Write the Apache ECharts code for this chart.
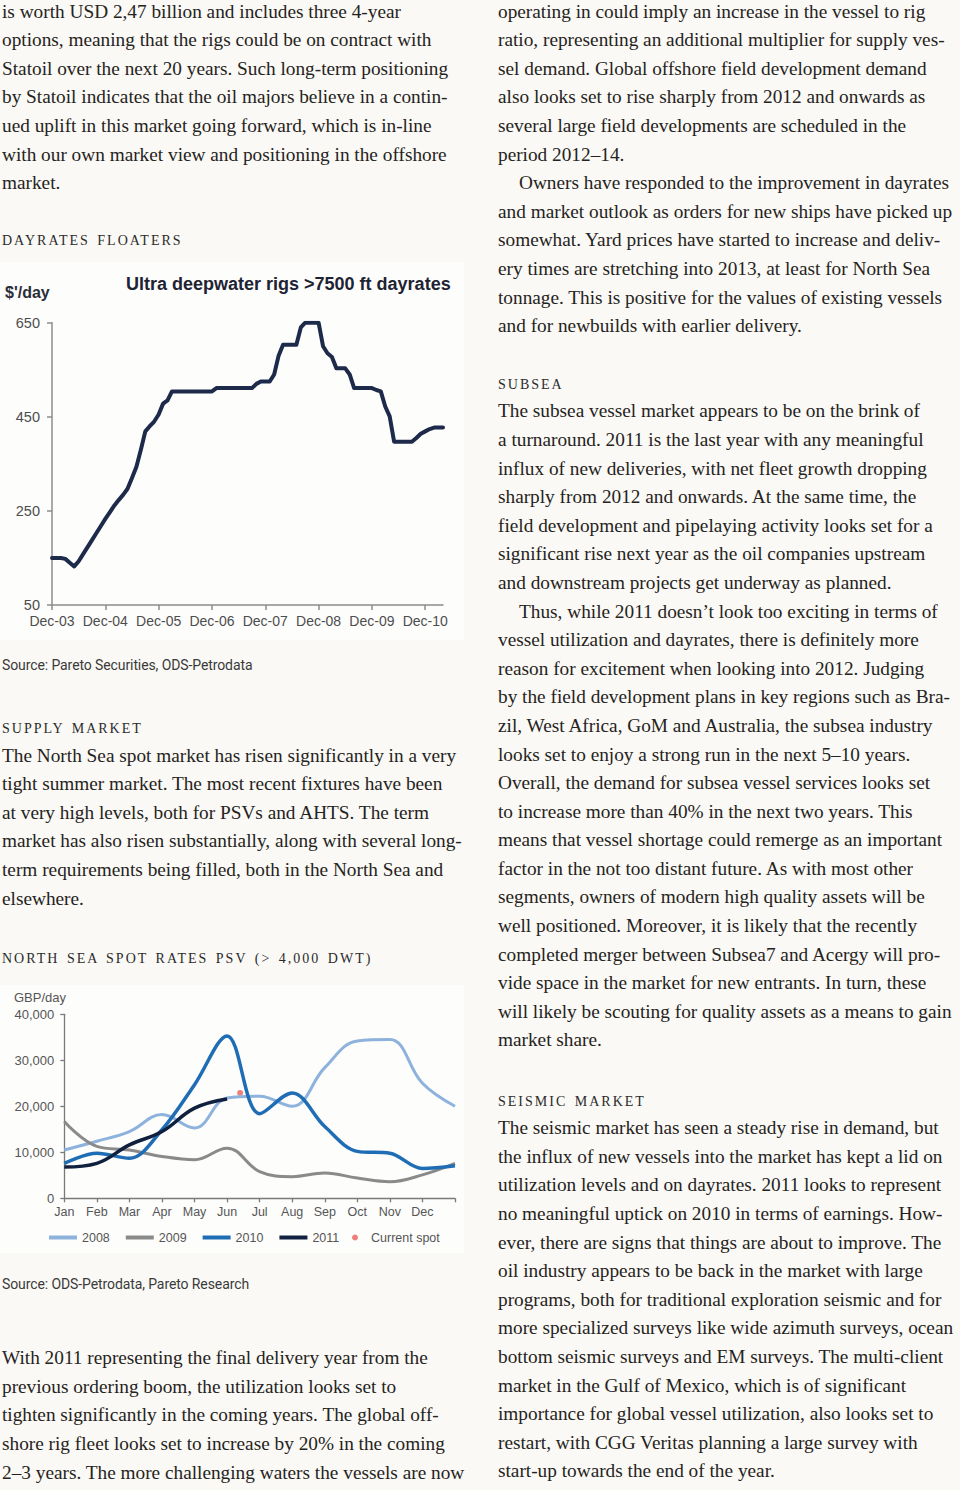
<!DOCTYPE html>
<html><head><meta charset="utf-8">
<script src="https://cdn.jsdelivr.net/npm/echarts@6/dist/echarts.min.js"></script>
<style>
html,body{margin:0;padding:0;background:#faf9f5;}
#page{position:relative;width:960px;height:1490px;overflow:hidden;background:#faf9f5;}
.tx{position:absolute;font-family:"Liberation Serif",serif;font-size:19.3px;line-height:28.6px;color:#252321;white-space:nowrap;}
.hd{position:absolute;font-family:"Liberation Serif",serif;font-size:14px;line-height:14px;letter-spacing:2px;word-spacing:2px;color:#2b2b2b;white-space:nowrap;}
.src{position:absolute;font-family:Roboto,sans-serif;font-size:14px;line-height:15px;letter-spacing:-0.1px;color:#3a3a3a;white-space:nowrap;}
.ind{padding-left:21px}
.panel{position:absolute;background:#fdfdfc;}
#c1{position:absolute;left:0;top:262px;width:470px;height:380px;}
#c2{position:absolute;left:0;top:985px;width:470px;height:270px;}
</style>
</head><body>
<div id="page">
<div class="panel" style="left:0;top:262px;width:464px;height:378px"></div>
<div class="panel" style="left:0;top:985px;width:464px;height:268px"></div>

<div class="tx" style="left:2px;top:-2.3px">is worth USD 2,47 billion and includes three 4-year<br>options, meaning that the rigs could be on contract with<br>Statoil over the next 20 years. Such long-term positioning<br>by Statoil indicates that the oil majors believe in a contin-<br>ued uplift in this market going forward, which is in-line<br>with our own market view and positioning in the offshore<br>market.</div>
<div class="hd" style="left:2px;top:234.3px">DAYRATES FLOATERS</div>
<div class="src" style="left:2px;top:657.8px">Source: Pareto Securities, ODS-Petrodata</div>
<div class="hd" style="left:2px;top:722.3px">SUPPLY MARKET</div>
<div class="tx" style="left:2px;top:741.7px">The North Sea spot market has risen significantly in a very<br>tight summer market. The most recent fixtures have been<br>at very high levels, both for PSVs and AHTS. The term<br>market has also risen substantially, along with several long-<br>term requirements being filled, both in the North Sea and<br>elsewhere.</div>
<div class="hd" style="left:2px;top:951.6px">NORTH SEA SPOT RATES PSV (&gt; 4,000 DWT)</div>
<div class="src" style="left:2px;top:1276.8px">Source: ODS-Petrodata, Pareto Research</div>
<div class="tx" style="left:2px;top:1344.2px">With 2011 representing the final delivery year from the<br>previous ordering boom, the utilization looks set to<br>tighten significantly in the coming years. The global off-<br>shore rig fleet looks set to increase by 20% in the coming<br>2–3 years. The more challenging waters the vessels are now</div>

<div class="tx" style="left:498px;top:-2.3px">operating in could imply an increase in the vessel to rig<br>ratio, representing an additional multiplier for supply ves-<br>sel demand. Global offshore field development demand<br>also looks set to rise sharply from 2012 and onwards as<br>several large field developments are scheduled in the<br>period 2012–14.<br><span class="ind">Owners have responded to the improvement in dayrates</span><br>and market outlook as orders for new ships have picked up<br>somewhat. Yard prices have started to increase and deliv-<br>ery times are stretching into 2013, at least for North Sea<br>tonnage. This is positive for the values of existing vessels<br>and for newbuilds with earlier delivery.</div>
<div class="hd" style="left:498px;top:378.3px">SUBSEA</div>
<div class="tx" style="left:498px;top:397.4px">The subsea vessel market appears to be on the brink of<br>a turnaround. 2011 is the last year with any meaningful<br>influx of new deliveries, with net fleet growth dropping<br>sharply from 2012 and onwards. At the same time, the<br>field development and pipelaying activity looks set for a<br>significant rise next year as the oil companies upstream<br>and downstream projects get underway as planned.<br><span class="ind">Thus, while 2011 doesn’t look too exciting in terms of</span><br>vessel utilization and dayrates, there is definitely more<br>reason for excitement when looking into 2012. Judging<br>by the field development plans in key regions such as Bra-<br>zil, West Africa, GoM and Australia, the subsea industry<br>looks set to enjoy a strong run in the next 5–10 years.<br>Overall, the demand for subsea vessel services looks set<br>to increase more than 40% in the next two years. This<br>means that vessel shortage could remerge as an important<br>factor in the not too distant future. As with most other<br>segments, owners of modern high quality assets will be<br>well positioned. Moreover, it is likely that the recently<br>completed merger between Subsea7 and Acergy will pro-<br>vide space in the market for new entrants. In turn, these<br>will likely be scouting for quality assets as a means to gain<br>market share.</div>
<div class="hd" style="left:498px;top:1095px">SEISMIC MARKET</div>
<div class="tx" style="left:498px;top:1114.2px">The seismic market has seen a steady rise in demand, but<br>the influx of new vessels into the market has kept a lid on<br>utilization levels and on dayrates. 2011 looks to represent<br>no meaningful uptick on 2010 in terms of earnings. How-<br>ever, there are signs that things are about to improve. The<br>oil industry appears to be back in the market with large<br>programs, both for traditional exploration seismic and for<br>more specialized surveys like wide azimuth surveys, ocean<br>bottom seismic surveys and EM surveys. The multi-client<br>market in the Gulf of Mexico, which is of significant<br>importance for global vessel utilization, also looks set to<br>restart, with CGG Veritas planning a large survey with<br>start-up towards the end of the year.</div>

<div id="c1"></div>
<div id="c2"></div>
</div>
<script>
// ---------- Chart 1 data: Ultra deepwater rigs >7500 ft dayrates (monthly, Dec-03 .. Apr-11) ----------
const dayrateStart = { year: 2003, month: 11 }; // December 2003
const dayrateTickLabels = ['Dec-03','Dec-04','Dec-05','Dec-06','Dec-07','Dec-08','Dec-09','Dec-10'];
const dayrateYTicks = [50, 250, 450, 650];
const dayrateValues = [
  150,150,150,148,140,132,143,158,173,188,203,218,
  233,247,261,273,284,297,320,344,380,419,430,440,
  455,478,485,504,504,504,504,504,504,504,504,504,
  504,511,511,511,511,511,511,511,511,511,520,525,
  525,525,540,580,603,603,603,603,640,650,650,650,
  650,600,585,577,553,553,553,540,511,511,511,511,
  511,507,504,472,451,397,397,397,397,397,405,414,
  419,424,427,427,427
];

// ---------- Chart 2 data: North Sea spot rates PSV (GBP/day) ----------
const monthLabels = ['Jan','Feb','Mar','Apr','May','Jun','Jul','Aug','Sep','Oct','Nov','Dec'];
const rates2008 = [10500,12400,14500,18200,15300,21800,22200,20000,28400,34200,34500,25000,20000];
const rates2009 = [16700,11300,10500,9100,8400,10900,5800,4700,5500,4400,3600,5100,7600];
const rates2010 = [7600,9800,8700,14900,24700,35300,18400,22900,15600,10200,9800,6500,7100];
const rates2011 = [6800,7600,11600,14500,19600,21600];
const currentSpot = [[5.4, 22900]];

const monNames = ['Jan','Feb','Mar','Apr','May','Jun','Jul','Aug','Sep','Oct','Nov','Dec'];
const dayrateCats = dayrateValues.map((_, i) => {
  const m = (dayrateStart.month + i) % 12;
  const y = dayrateStart.year + Math.floor((dayrateStart.month + i) / 12);
  return monNames[m] + '-' + String(y % 100).padStart(2, '0');
});

const c1 = echarts.init(document.getElementById('c1'), null, { renderer: 'svg' });
c1.setOption({
  backgroundColor: 'transparent',
  animation: false,
  title: [
    { text: 'Ultra deepwater rigs >7500 ft dayrates', left: 126, top: 13, padding: 0,
      textStyle: { fontFamily: 'Liberation Sans, Arial, sans-serif', fontSize: 18, fontWeight: 'bold', color: '#1d2333' } },
    { text: "$'/day", left: 5, top: 22, padding: 0,
      textStyle: { fontFamily: 'Liberation Sans, Arial, sans-serif', fontSize: 16, fontWeight: 'bold', color: '#2a2e38' } }
  ],
  grid: { left: 52, right: 27, top: 60.7, bottom: 37, containLabel: false, outerBoundsMode: 'none' },
  xAxis: {
    type: 'category', boundaryGap: false, data: dayrateCats,
    axisLine: { lineStyle: { color: '#8c8c8c', width: 1.5 } },
    axisTick: { show: true, length: 5, interval: (i) => dayrateTickLabels.includes(dayrateCats[i]), lineStyle: { color: '#8c8c8c', width: 1.5 } },
    axisLabel: { interval: (i, v) => dayrateTickLabels.includes(v), margin: 9,
      fontFamily: 'Liberation Sans, Arial, sans-serif', fontSize: 14, color: '#4d4d4d' },
    splitLine: { show: false }
  },
  yAxis: {
    type: 'value', min: 50, max: 650,
    axisLine: { show: true, lineStyle: { color: '#8c8c8c', width: 1.5 } },
    axisTick: { show: true, length: 5, customValues: dayrateYTicks, lineStyle: { color: '#8c8c8c', width: 1.5 } },
    axisLabel: { customValues: dayrateYTicks, margin: 12,
      fontFamily: 'Liberation Sans, Arial, sans-serif', fontSize: 14.5, color: '#4d4d4d' },
    splitLine: { show: false }
  },
  series: [{
    type: 'line', data: dayrateValues, showSymbol: false, smooth: false,
    lineStyle: { color: '#1d2a4a', width: 4, join: 'round', cap: 'round' }
  }]
});

const toPairs = (arr) => arr.map((v, i) => [i, v]);
const chartFont = 'Liberation Sans, Arial, sans-serif';
const c2 = echarts.init(document.getElementById('c2'), null, { renderer: 'svg' });
c2.setOption({
  backgroundColor: 'transparent',
  animation: false,
  title: { text: 'GBP/day', left: 14, top: 6, padding: 0,
    textStyle: { fontFamily: chartFont, fontSize: 13, fontWeight: 'normal', color: '#555' } },
  legend: [
    { data: ['2008','2009','2010','2011'], left: 49, top: 246, padding: 0, itemGap: 16,
      itemWidth: 28, itemHeight: 4, icon: 'rect',
      textStyle: { fontFamily: chartFont, fontSize: 12.5, color: '#555' } },
    { data: [{ name: 'Current spot', icon: 'circle' }], left: 352, top: 246, padding: 0,
      itemWidth: 22, itemHeight: 6,
      textStyle: { fontFamily: chartFont, fontSize: 12.5, color: '#555' } }
  ],
  grid: { left: 64.3, right: 15, top: 29.3, bottom: 56.7, containLabel: false, outerBoundsMode: 'none' },
  xAxis: {
    type: 'value', min: 0, max: 12, interval: 1,
    axisLine: { lineStyle: { color: '#7a7a7a', width: 1.3 } },
    axisTick: { show: true, length: 4, lineStyle: { color: '#7a7a7a', width: 1.3 } },
    axisLabel: { margin: 7, formatter: (v) => monthLabels[v] || '',
      fontFamily: chartFont, fontSize: 12.5, color: '#555' },
    splitLine: { show: false }
  },
  yAxis: {
    type: 'value', min: 0, max: 40000, interval: 10000,
    axisLine: { show: true, lineStyle: { color: '#7a7a7a', width: 1.3 } },
    axisTick: { show: true, length: 4, lineStyle: { color: '#7a7a7a', width: 1.3 } },
    axisLabel: { margin: 10, formatter: (v) => v.toLocaleString('en-US'),
      fontFamily: chartFont, fontSize: 13, color: '#555' },
    splitLine: { show: false }
  },
  series: [
    { name: '2008', type: 'line', data: toPairs(rates2008), smooth: 0.4, showSymbol: false,
      itemStyle: { color: '#8db2dc' }, lineStyle: { color: '#8db2dc', width: 3 } },
    { name: '2009', type: 'line', data: toPairs(rates2009), smooth: 0.4, showSymbol: false,
      itemStyle: { color: '#8a8a8a' }, lineStyle: { color: '#8a8a8a', width: 3 } },
    { name: '2010', type: 'line', data: toPairs(rates2010), smooth: 0.35, showSymbol: false,
      itemStyle: { color: '#1f6db5' }, lineStyle: { color: '#1f6db5', width: 3.5 } },
    { name: '2011', type: 'line', data: toPairs(rates2011), smooth: 0.4, showSymbol: false,
      itemStyle: { color: '#10213f' }, lineStyle: { color: '#10213f', width: 3.5 } },
    { name: 'Current spot', type: 'scatter', data: currentSpot, symbolSize: 6,
      itemStyle: { color: '#e8605a' } }
  ]
});
</script>
</body></html>
